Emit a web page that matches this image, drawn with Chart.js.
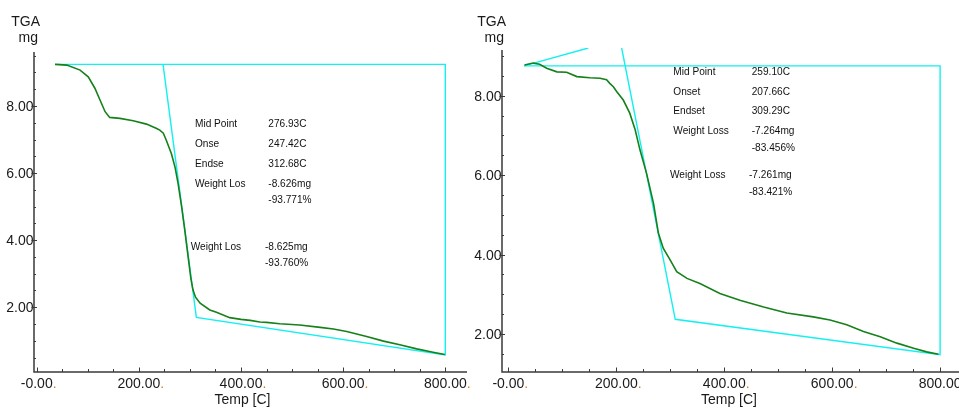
<!DOCTYPE html>
<html><head><meta charset="utf-8">
<script src="https://cdn.jsdelivr.net/npm/chart.js@4.4.1/dist/chart.umd.min.js"></script>
<style>
html,body{margin:0;padding:0;background:#fff;width:959px;height:408px;overflow:hidden;}
canvas{position:absolute;top:0;}
#c1{left:0;}
#c2{left:472px;}
</style></head><body>
<canvas id="c1" width="475" height="408"></canvas>
<canvas id="c2" width="487" height="408"></canvas>
<script>
// ===== DATA =====
// Left TGA run
const leftTemp = [36, 59, 85, 101, 114, 124, 134, 143, 163, 189, 215, 235, 241, 248, 254, 264, 271, 277, 284, 290, 297, 302, 306, 311, 320, 339, 352, 378, 400, 418, 437, 450, 476, 515, 555, 581, 607, 646, 679, 711, 744, 776, 799];
const leftMass = [9.24, 9.22, 9.07, 8.87, 8.53, 8.18, 7.83, 7.66, 7.63, 7.56, 7.46, 7.33, 7.28, 7.19, 6.97, 6.57, 6.17, 5.68, 4.98, 4.30, 3.45, 2.85, 2.52, 2.30, 2.12, 1.92, 1.85, 1.69, 1.64, 1.61, 1.56, 1.55, 1.51, 1.47, 1.40, 1.35, 1.28, 1.13, 0.99, 0.88, 0.76, 0.66, 0.59];
// Left construction (baseline / tangents) polyline
const leftGuideTemp = [36, 800, 800, 312.68, 247.42];
const leftGuideMass = [9.24, 9.24, 0.58, 1.70, 9.24];
// Left annotation texts
const leftLabels1 = ['Mid Point', 'Onse', 'Endse', 'Weight Los'];
const leftValues1 = ['276.93C', '247.42C', '312.68C', '-8.626mg', '-93.771%'];
const leftLabels2 = ['Weight Los'];
const leftValues2 = ['-8.625mg', '-93.760%'];

// Right TGA run
const rightTemp = [30, 46, 58, 71, 90, 108, 127, 151, 170, 182, 188, 195, 201, 213, 225, 235, 244, 256, 269, 278, 287, 300, 312, 331, 355, 392, 429, 473, 516, 565, 596, 627, 658, 689, 720, 751, 775, 797];
const rightMass = [8.77, 8.82, 8.79, 8.69, 8.60, 8.59, 8.48, 8.45, 8.44, 8.40, 8.31, 8.22, 8.10, 7.89, 7.56, 7.14, 6.63, 6.05, 5.29, 4.54, 4.16, 3.86, 3.57, 3.40, 3.27, 3.02, 2.85, 2.68, 2.53, 2.43, 2.35, 2.23, 2.06, 1.93, 1.77, 1.64, 1.55, 1.49];
const rightGuideTemp = [29, 800, 800, 309.29, 210];
const rightGuideMass = [8.75, 8.75, 1.48, 2.37, 9.20];
const rightInitTemp = [29, 148];
const rightInitMass = [8.75, 9.20];
const rightLabels1 = ['Mid Point', 'Onset', 'Endset', 'Weight Loss'];
const rightValues1 = ['259.10C', '207.66C', '309.29C', '-7.264mg', '-83.456%'];
const rightLabels2 = ['Weight Loss'];
const rightValues2 = ['-7.261mg', '-83.421%'];

// Axis ticks
const xMajorTicks = [0, 200, 400, 600, 800];
const xTickLabels = ['-0.00', '200.00', '400.00', '600.00', '800.00'];
const xMinorTicks = [50, 100, 150, 250, 300, 350, 450, 500, 550, 650, 700, 750];
const yMajorTicks = [2, 4, 6, 8];
const yTickLabels = ['2.00', '4.00', '6.00', '8.00'];
const yMinorTicks = [0.5, 1, 1.5, 2.5, 3, 3.5, 4.5, 5, 5.5, 6.5, 7, 7.5, 8.5, 9, 9.5];
const yAxisTitle = ['TGA', 'mg'];
const xAxisTitle = 'Temp [C]';

// ===== RENDERING =====
const GREEN = '#16801a';
const CYAN = '#12f0f0';
const AXIS = '#3a3a3a';
const TEXT = '#1a1a1a';
const ANN = '#111111';
const ORANGE = '#e07a10';

function pts(xs, ys) { return xs.map((x, i) => ({x: x, y: ys[i]})); }

function txt(ctx, s, x, y, font, color, align, sx) {
  ctx.save();
  ctx.font = font; ctx.fillStyle = color;
  ctx.textAlign = align || 'left'; ctx.textBaseline = 'alphabetic';
  ctx.translate(x, y);
  if (sx) ctx.scale(sx, 1);
  ctx.fillText(s, 0, 0);
  ctx.restore();
}

function decor(c) {
  return {
    id: 'decor',
    afterDraw(chart) {
      const ctx = chart.ctx, a = chart.chartArea, xs = chart.scales.x, ys = chart.scales.y;
      const axTop = a.top + c.axisTopOff;
      ctx.save();
      ctx.strokeStyle = AXIS; ctx.lineWidth = 1.5;
      ctx.beginPath();
      ctx.moveTo(a.left, axTop); ctx.lineTo(a.left, a.bottom); ctx.lineTo(a.right, a.bottom);
      ctx.stroke();
      ctx.lineWidth = 1;
      // x ticks (pointing up into the plot)
      ctx.beginPath();
      xMinorTicks.forEach(v => { const px = Math.round(xs.getPixelForValue(v)) + 0.5; ctx.moveTo(px, a.bottom); ctx.lineTo(px, a.bottom - 3); });
      xMajorTicks.forEach(v => { const px = Math.round(xs.getPixelForValue(v)) + 0.5; ctx.moveTo(px, a.bottom); ctx.lineTo(px, a.bottom - 4.5); });
      // y ticks
      yMinorTicks.forEach(v => {
        const py = Math.round(ys.getPixelForValue(v)) + 0.5;
        if (py < axTop || py > a.bottom - 1) return;
        ctx.moveTo(a.left, py); ctx.lineTo(a.left + 2, py);
      });
      ctx.stroke();
      ctx.restore();
      // y labels
      yMajorTicks.forEach((v, i) => {
        const py = ys.getPixelForValue(v);
        txt(ctx, yTickLabels[i], a.left - 0.5, py + 5, '14px "Liberation Sans", Arial, sans-serif', TEXT, 'right');
      });
      ctx.save(); ctx.strokeStyle = AXIS; ctx.lineWidth = 1; ctx.beginPath();
      yMajorTicks.forEach(v => { const py = Math.round(ys.getPixelForValue(v)) + 0.5; ctx.moveTo(a.left - 2.5, py); ctx.lineTo(a.left + 3, py); });
      ctx.stroke(); ctx.restore();
      // x labels with the trailing orange dot
      ctx.save();
      ctx.font = '14px "Liberation Sans", Arial, sans-serif';
      xMajorTicks.forEach((v, i) => {
        const px = xs.getPixelForValue(v);
        const s = xTickLabels[i];
        const w = ctx.measureText(s).width, wd = ctx.measureText('.').width;
        const x0 = px + 2 - (w + wd) / 2;
        ctx.fillStyle = TEXT; ctx.textAlign = 'left'; ctx.fillText(s, x0, a.bottom + 15.5);
        ctx.fillStyle = ORANGE; ctx.fillText('.', x0 + w, a.bottom + 15.5);
      });
      ctx.restore();
      // axis titles
      const tf = '14px "Liberation Sans", Arial, sans-serif';
      txt(ctx, yAxisTitle[0], c.tgaX, 26, tf, TEXT, 'right');
      txt(ctx, yAxisTitle[1], c.mgX, 42, tf, TEXT, 'right');
      txt(ctx, xAxisTitle, c.tempX, 403.5, tf, TEXT, 'center');
      // annotations
      const af = '11.5px "Liberation Sans", Arial, sans-serif';
      const k = c.ann, sx = 0.88;
      c.labels1.forEach((s, i) => txt(ctx, s, k.lx, k.y0 + i * k.dy, af, ANN, 'left', sx));
      c.values1.forEach((s, i) => txt(ctx, s, k.vx, k.y0 + i * k.dy - (i === 4 ? k.dy - k.pctDy : 0), af, ANN, 'left', sx));
      c.labels2.forEach(s => txt(ctx, s, k.lx2, k.y2, af, ANN, 'left', sx));
      c.values2.forEach((s, i) => txt(ctx, s, k.vx2, k.y2 + i * k.pctDy, af, ANN, 'left', sx));
    }
  };
}

function makeChart(id, c) {
  const ds = [
    {data: pts(c.temp, c.mass), borderColor: GREEN, borderWidth: 1.6, pointRadius: 0, tension: 0, order: 0}
  ];
  c.guides.forEach(g => ds.push({data: pts(g[0], g[1]), borderColor: CYAN, borderWidth: 1.4, pointRadius: 0, tension: 0, order: 1}));
  return new Chart(document.getElementById(id), {
    type: 'line',
    data: {datasets: ds},
    options: {
      responsive: false, animation: false,
      layout: {padding: c.pad},
      plugins: {legend: {display: false}, tooltip: {enabled: false}},
      scales: {
        x: {type: 'linear', min: c.xmin, max: c.xmax, display: false},
        y: {type: 'linear', min: c.ymin, max: c.ymax, display: false}
      }
    },
    plugins: [decor(c)]
  });
}

makeChart('c1', {
  temp: leftTemp, mass: leftMass,
  guides: [[leftGuideTemp, leftGuideMass]],
  pad: {left: 34, right: 8, top: 52, bottom: 36},
  xmin: -5.2, xmax: 842.5, ymin: 0.07, ymax: 9.61,
  axisTopOff: 0,
  tgaX: 40, mgX: 38, tempX: 242.5,
  labels1: leftLabels1, values1: leftValues1, labels2: leftLabels2, values2: leftValues2,
  ann: {lx: 195, vx: 268.3, y0: 126.5, dy: 20, pctDy: 16, lx2: 190.7, vx2: 265, y2: 250}
});

makeChart('c2', {
  temp: rightTemp, mass: rightMass,
  guides: [[rightGuideTemp, rightGuideMass], [rightInitTemp, rightInitMass]],
  pad: {left: 30, right: 0, top: 48, bottom: 36},
  xmin: -11.7, xmax: 835, ymin: 1.043, ymax: 9.2,
  axisTopOff: 2,
  tgaX: 34, mgX: 32, tempX: 257,
  labels1: rightLabels1, values1: rightValues1, labels2: rightLabels2, values2: rightValues2,
  ann: {lx: 201.3, vx: 279.7, y0: 75, dy: 19.7, pctDy: 17, lx2: 198, vx2: 277, y2: 177.7}
});
</script>
</body></html>
